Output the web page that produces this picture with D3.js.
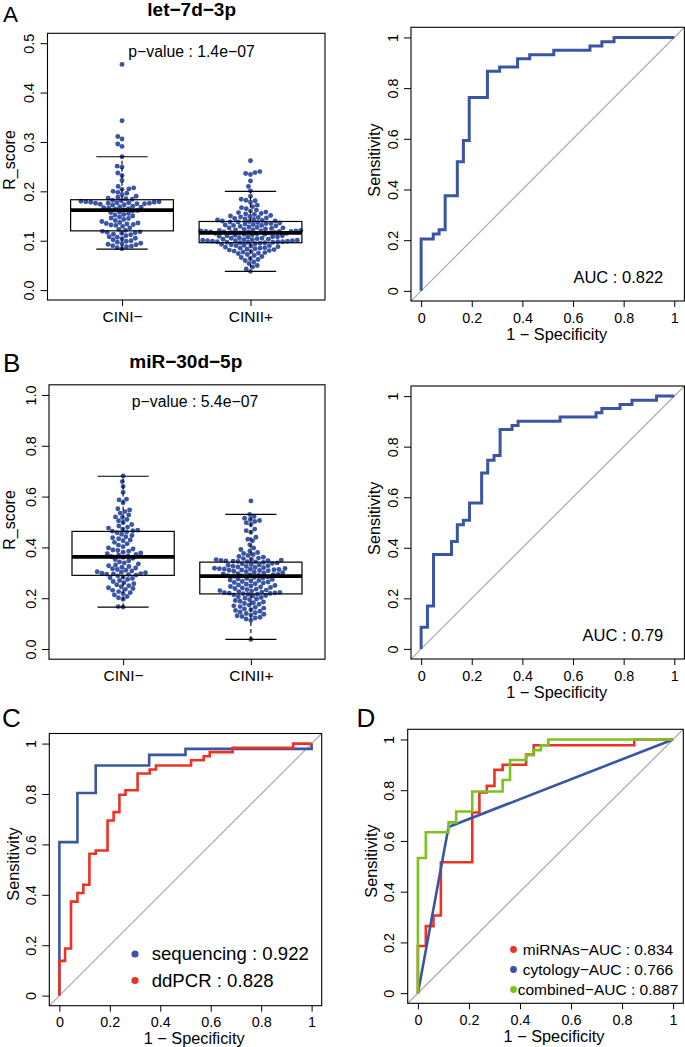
<!DOCTYPE html>
<html><head><meta charset="utf-8">
<script src="https://cdn.jsdelivr.net/npm/d3@7"></script>
<style>body{margin:0;background:#fff} svg{display:block} text{font-family:"Liberation Sans",Arial,Helvetica,sans-serif}</style>
</head><body><svg id="c" width="685" height="1047"></svg>
<script>
// ---------------- data ----------------
const groups = ["CINI\u2212", "CINII+"];

const let7d_CINIneg = [.457,.343,.311,.306,.296,.291,.270,.251,.249,.237,.232,.222,.210,.207,.205,.204,.200,.198,.196,.193,.190,.188,.186,.185,.184,
 .182,.181,.180,.179,.179,.178,.178,.177,.177,.176,.176,.176,.175,.175,.174,.173,.172,.170,.169,.168,.167,.166,.165,.164,.163,
 .161,.160,.158,.157,.155,.153,.152,.150,.148,.146,.145,.143,.141,.139,.137,.136,.135,.134,.133,.132,.131,.129,.126,.123,.121,
 .119,.118,.117,.116,.115,.113,.112,.110,.108,.107,.105,.104,.102,.100,.099,.097,.095,.094,.093,.092,.090,.089,.088,.086,.084];
const let7d_CINIIpos = [.262,.240,.238,.236,.234,.221,.210,.201,.190,.184,.182,.181,.178,.172,.169,.167,.165,.162,.160,.158,.157,.155,.154,.153,.151,.150,.149,.148,.147,.146,.145,.144,.143,.142,.141,.140,.140,
 .139,.138,.138,.137,.136,.135,.135,.134,.133,.132,.131,.131,.130,.129,.128,.127,.126,.126,.125,.124,.123,.122,.122,.121,.121,.120,.120,.120,.119,.119,.119,.118,.118,.118,.117,.117,.116,
 .116,.115,.115,.114,.113,.113,.112,.111,.110,.110,.109,.108,.108,.107,.106,.105,.105,.104,.103,.103,.102,.102,.101,.101,.100,.100,.100,.099,.099,.098,.098,.098,.097,.097,.097,.096,.096,
 .095,.094,.093,.092,.091,.090,.090,.089,.088,.087,.086,.085,.085,.084,.083,.082,.081,.080,.079,.078,.077,.076,.075,.074,.072,.070,.068,.066,.064,.062,.060,.057,.054,.050,.047,.043,.038];
const miR30d_CINIneg = [.681,.659,.640,.617,.590,.587,.576,.552,.547,.541,.535,.528,.520,.518,.510,.505,.498,.490,.484,.480,.476,.472,.468,.466,.464,
 .461,.458,.452,.447,.442,.438,.434,.429,.426,.420,.414,.409,.403,.398,.394,.390,.388,.385,.381,.378,.375,.372,.369,.366,.364,
 .361,.357,.352,.347,.343,.339,.335,.331,.328,.325,.322,.319,.316,.313,.310,.307,.304,.302,.300,.298,.297,.296,.295,.293,.291,
 .288,.284,.281,.278,.274,.270,.266,.261,.257,.253,.249,.245,.241,.238,.235,.231,.226,.222,.218,.213,.207,.202,.196,.167,.165];
const miR30d_CINIIpos = [.583,.530,.522,.515,.510,.506,.502,.497,.490,.472,.466,.460,.440,.432,.426,.410,.398,.392,.386,.380,.376,.372,.368,.364,.361,.358,.356,.354,.352,.350,.349,.348,.347,.346,.345,.344,.343,
 .341,.339,.337,.335,.333,.331,.330,.328,.326,.325,.323,.321,.320,.318,.317,.316,.315,.314,.313,.312,.311,.310,.309,.308,.306,.304,.302,.300,.299,.297,.296,.294,.293,.292,.290,.289,.288,
 .286,.284,.282,.280,.278,.276,.274,.272,.270,.268,.266,.264,.262,.260,.257,.255,.252,.250,.248,.246,.244,.242,.240,.238,.236,.234,.232,.230,.228,.226,.224,.223,.222,.221,.220,.219,.218,
 .216,.215,.213,.211,.209,.206,.203,.200,.197,.194,.191,.188,.185,.182,.179,.176,.173,.170,.167,.164,.161,.158,.155,.152,.149,.146,.143,.140,.137,.134,.131,.128,.125,.122,.118,.113,.038];

// box stats: [lower whisker, Q1, median, Q3, upper whisker]
const let7d_stats = [[0.083,0.120,0.162,0.183,0.270],[0.038,0.096,0.116,0.139,0.200]];
const miR30d_stats = [[0.165,0.290,0.363,0.463,0.680],[0.038,0.217,0.287,0.342,0.530]];

const let7d_ticks = [0,0.1,0.2,0.3,0.4,0.5];
const miR30d_ticks = [0,0.2,0.4,0.6,0.8,1.0];
const rocTicks = [0,0.2,0.4,0.6,0.8,1];

// ROC operating points [1-specificity, sensitivity]
const rocA = [[0,0],[0,0.205],[0.048,0.224],[0.071,0.241],[0.095,0.375],[0.143,0.509],[0.167,0.593],[0.19,0.763],[0.262,0.867],[0.31,0.883],[0.381,0.916],[0.429,0.932],[0.524,0.949],[0.667,0.966],[0.714,0.983],[0.762,1],[1,1]];
const rocB = [[0,0],[0,0.086],[0.025,0.17],[0.049,0.373],[0.12,0.425],[0.143,0.491],[0.167,0.509],[0.191,0.577],[0.239,0.696],[0.263,0.746],[0.288,0.765],[0.312,0.868],[0.359,0.884],[0.383,0.901],[0.549,0.917],[0.691,0.934],[0.714,0.951],[0.786,0.967],[0.833,0.984],[0.93,1],[1,1]];
const rocC_seq = [[0,0],[0,0.609],[0.0715,0.804],[0.144,0.913],[0.356,0.955],[0.5,0.979],[1,1]];
const rocC_ddpcr = [[0,0],[0,0.138],[0.0225,0.187],[0.046,0.373],[0.0715,0.407],[0.095,0.44],[0.119,0.563],[0.144,0.576],[0.191,0.695],[0.215,0.728],[0.238,0.797],[0.262,0.815],[0.31,0.881],[0.358,0.897],[0.383,0.913],[0.522,0.934],[0.572,0.95],[0.596,0.966],[0.687,0.983],[0.927,1],[1,1]];
const rocD_mirna = [[0,0],[0,0.186],[0.031,0.264],[0.061,0.306],[0.09,0.516],[0.213,0.712],[0.241,0.791],[0.27,0.817],[0.3,0.88],[0.332,0.9],[0.424,0.94],[0.454,0.977],[0.848,1],[1,1]];
const rocD_cyto = [[0,0],[0.12,0.655],[1,1]];
const rocD_comb = [[0,0],[0,0.533],[0.031,0.634],[0.12,0.673],[0.15,0.716],[0.213,0.795],[0.332,0.84],[0.361,0.919],[0.424,0.938],[0.452,0.958],[0.482,0.977],[0.511,1],[1,1]];

const legendC = ["sequencing : 0.922", "ddPCR : 0.828"];
const legendD = ["miRNAs\u2212AUC : 0.834", "cytology\u2212AUC : 0.766", "combined\u2212AUC : 0.887"];

// ---------------- drawing ----------------
const BLUE = "#3a55a5", RED = "#ec3323", GREEN = "#7cc31f", GREY = "#aaaaaa";
const svg = d3.select("#c");

function swarm(vals, y, d) {
  const pts = vals.map(v => ({v, y: y(v)})).sort((a,b) => a.v - b.v);
  const placed = [];
  for (const p of pts) {
    const near = placed.filter(q => Math.abs(q.y - p.y) < d);
    const cands = [0];
    near.forEach(q => { const dx = Math.sqrt(d*d - (q.y-p.y)**2); cands.push(q.x + dx, q.x - dx); });
    cands.sort((a,b) => (Math.abs(a) - Math.abs(b)) || (a - b));
    let x = 0;
    for (const c of cands) {
      if (near.every(q => (q.x-c)**2 + (q.y-p.y)**2 >= d*d - 1e-6)) { x = c; break; }
    }
    p.x = x; placed.push(p);
  }
  return placed;
}

function frame(x0,x1,y0,y1) {
  svg.append("rect").attr("x",x0).attr("y",y0).attr("width",x1-x0).attr("height",y1-y0)
    .attr("fill","none").attr("stroke","#000").attr("stroke-width",1.1);
}
function leftAxis(g, y, ticks, fmt, x0) {
  const ax = g.append("g").attr("transform",`translate(${x0},0)`)
    .call(d3.axisLeft(y).tickValues(ticks).tickFormat(fmt).tickSize(7).tickSizeOuter(0));
  ax.select(".domain").remove();
  ax.selectAll("line").attr("stroke","#000").attr("stroke-width",1);
  ax.selectAll("text").attr("x",0).attr("dy",0).attr("text-anchor","middle")
    .attr("transform","translate(-13.5,0) rotate(-90)").attr("font-size",14.4).attr("fill","#000")
    .attr("font-family",'"Liberation Sans",Arial,sans-serif');
}
function bottomAxis(g, x, ticks, fmt, y0, fs) {
  const ax = g.append("g").attr("transform",`translate(0,${y0})`)
    .call(d3.axisBottom(x).tickValues(ticks).tickFormat(fmt).tickSize(6).tickSizeOuter(0));
  ax.select(".domain").remove();
  ax.selectAll("line").attr("stroke","#000").attr("stroke-width",1);
  ax.selectAll("text").attr("y",21.5).attr("dy",0).attr("font-size",fs).attr("fill","#000")
    .attr("font-family",'"Liberation Sans",Arial,sans-serif');
}
function txt(x,y,s,size,opts={}) {
  const t = svg.append("text").attr("x",x).attr("y",y).attr("font-size",size).text(s)
    .attr("text-anchor",opts.anchor||"start").attr("fill","#000");
  if (opts.bold) t.attr("font-weight","bold");
  if (opts.rot) t.attr("transform",`rotate(-90,${x},${y})`);
  return t;
}

function boxPanel(o) {
  const g = svg.append("g");
  const ext = o.ymax*0.04;
  const y = d3.scaleLinear().domain([-ext, o.ymax+ext]).range([o.fy1, o.fy0]);
  const x = d3.scaleLinear().domain([0.42, 2.58]).range([o.fx0, o.fx1]);
  o.series.forEach((vals,i) => {
    const pos = swarm(vals, y, 4.9);
    g.append("g").selectAll("circle").data(pos).join("circle")
      .attr("cx", d => x(i+1) + d.x).attr("cy", d => d.y).attr("r", 2.45).attr("fill", BLUE);
  });
  o.stats.forEach((s,i) => {
    const c = i+1, bg = g.append("g").attr("stroke","#000").attr("fill","none");
    bg.append("line").attr("x1",x(c)).attr("x2",x(c)).attr("y1",y(s[3])).attr("y2",y(s[4])).attr("stroke-dasharray","4,3").attr("stroke-width",1.1);
    bg.append("line").attr("x1",x(c)).attr("x2",x(c)).attr("y1",y(s[1])).attr("y2",y(s[0])).attr("stroke-dasharray","4,3").attr("stroke-width",1.1);
    [s[0],s[4]].forEach(v => bg.append("line").attr("x1",x(c-0.2)).attr("x2",x(c+0.2)).attr("y1",y(v)).attr("y2",y(v)).attr("stroke-width",1.2));
    bg.append("rect").attr("x",x(c-0.4)).attr("width",x(c+0.4)-x(c-0.4)).attr("y",y(s[3])).attr("height",y(s[1])-y(s[3])).attr("stroke-width",1.2);
    bg.append("line").attr("x1",x(c-0.4)).attr("x2",x(c+0.4)).attr("y1",y(s[2])).attr("y2",y(s[2])).attr("stroke-width",3.8);
  });
  leftAxis(g, y, o.ticks, d3.format(".1f"), o.fx0);
  bottomAxis(g, x, [1,2], (d,i) => groups[i], o.fy1, 15.5);
  frame(o.fx0,o.fx1,o.fy0,o.fy1);
}

function rocPanel(o) {
  const g = svg.append("g");
  const x = d3.scaleLinear().domain([-0.04,1.04]).range([o.fx0,o.fx1]);
  const y = d3.scaleLinear().domain([-0.04,1.04]).range([o.fy1,o.fy0]);
  const cid = "clip" + Math.round(o.fx0) + "_" + Math.round(o.fy0);
  g.append("clipPath").attr("id",cid).append("rect").attr("x",o.fx0).attr("y",o.fy0).attr("width",o.fx1-o.fx0).attr("height",o.fy1-o.fy0);
  const pg = g.append("g").attr("clip-path",`url(#${cid})`);
  pg.append("line").attr("x1",x(-0.04)).attr("y1",y(-0.04)).attr("x2",x(1.04)).attr("y2",y(1.04)).attr("stroke",GREY).attr("stroke-width",1.2);
  o.curves.forEach(c => {
    const line = d3.line().x(d => x(d[0])).y(d => y(d[1])).curve(c.step ? d3.curveStepAfter : d3.curveLinear);
    pg.append("path").attr("d", line(c.data)).attr("fill","none").attr("stroke",c.color).attr("stroke-width",o.lw).attr("stroke-linejoin","miter");
  });
  const fmt = d => (d === 0 ? "0" : d === 1 ? "1" : d3.format(".1f")(d));
  leftAxis(g, y, rocTicks, fmt, o.fx0);
  bottomAxis(g, x, rocTicks, fmt, o.fy1, 14.4);
  frame(o.fx0,o.fx1,o.fy0,o.fy1);
  txt(o.sensX, o.sensY, "Sensitivity", 16.3, {anchor:"middle", rot:true});
  txt(o.specX, o.fy1 + 38.5, "1 \u2212 Specificity", 16.3, {anchor:"middle"});
}

// Panel A
boxPanel({fx0:47.5, fx1:325, fy0:33.3, fy1:300, ymax:0.5, ticks:let7d_ticks, series:[let7d_CINIneg, let7d_CINIIpos], stats:let7d_stats});
txt(191.7, 16, "let\u22127d\u22123p", 19, {anchor:"middle", bold:true});
txt(191.5, 56.7, "p\u2212value : 1.4e\u221207", 15.8, {anchor:"middle"});
txt(14.5, 160, "R_score", 16, {anchor:"middle", rot:true});
rocPanel({fx0:411, fx1:684.4, fy0:27.3, fy1:301, lw:3, curves:[{data:rocA, color:BLUE, step:true}], sensX:380, sensY:160, specX:556.7});
txt(663.3, 283.3, "AUC : 0.822", 16.5, {anchor:"end"});
txt(3, 21.5, "A", 22.5);

// Panel B
boxPanel({fx0:49, fx1:325, fy0:384.8, fy1:659.2, ymax:1.0, ticks:miR30d_ticks, series:[miR30d_CINIneg, miR30d_CINIIpos], stats:miR30d_stats});
txt(185.8, 367.7, "miR\u221230d\u22125p", 19, {anchor:"middle", bold:true});
txt(195, 406.7, "p\u2212value : 5.4e\u221207", 15.8, {anchor:"middle"});
txt(14.5, 520, "R_score", 16, {anchor:"middle", rot:true});
rocPanel({fx0:411, fx1:684.4, fy0:386, fy1:659, lw:3, curves:[{data:rocB, color:BLUE, step:true}], sensX:380, sensY:518.3, specX:556.7});
txt(663.3, 640.7, "AUC : 0.79", 16.5, {anchor:"end"});
txt(3, 371.5, "B", 26);

// Panel C
rocPanel({fx0:49.3, fx1:321.7, fy0:733.5, fy1:1005.7, lw:2.6, curves:[{data:rocC_seq, color:BLUE, step:true},{data:rocC_ddpcr, color:RED, step:true}], sensX:18.5, sensY:864, specX:194.2});
[BLUE, RED].forEach((c,i) => {
  svg.append("circle").attr("cx",135).attr("cy",954 + i*26.5).attr("r",3.6).attr("fill",c);
  txt(151.7, 960 + i*26.5, legendC[i], 18.6);
});
txt(2, 726.7, "C", 26);

// Panel D
rocPanel({fx0:407.7, fx1:683.3, fy0:729.3, fy1:1003.3, lw:2.6, curves:[{data:rocD_mirna, color:RED, step:true},{data:rocD_cyto, color:BLUE, step:false},{data:rocD_comb, color:GREEN, step:true}], sensX:377, sensY:861, specX:554});
[RED, BLUE, GREEN].forEach((c,i) => {
  svg.append("circle").attr("cx",513.5).attr("cy",949.5 + i*20).attr("r",3.4).attr("fill",c);
  txt(598, 954.5 + i*20, legendD[i], 15.5, {anchor:"middle"});
});
txt(356.5, 726.7, "D", 26);
</script></body></html>
